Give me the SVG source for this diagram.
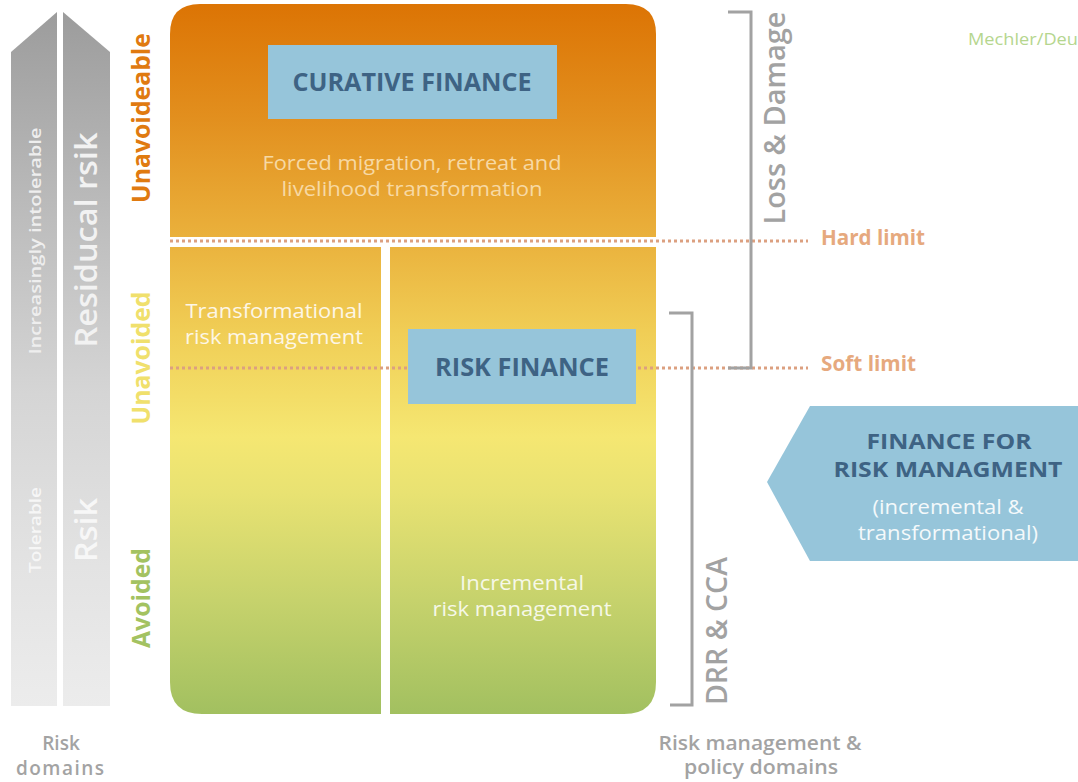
<svg xmlns="http://www.w3.org/2000/svg" width="1078" height="782" viewBox="0 0 1078 782">
<style>
text{font-family:"Open Sans","Noto Sans","Liberation Sans",sans-serif;}
.rot{text-anchor:middle;}
.head{font-weight:700;fill:#3e6384;text-anchor:middle;}
.body{text-anchor:middle;font-size:20px;font-weight:500;}
.lim{font-weight:700;fill:#e6a97e;font-size:21px;}
.brk{fill:none;stroke:#a2a2a2;stroke-width:3;}
.dot{fill:none;stroke:#dca080;stroke-width:3;stroke-dasharray:3 3;}
.foot{font-size:19px;fill:#a3a3a3;text-anchor:middle;font-weight:600;}
.blue{fill:#96c5da;}
</style>
<defs>
<linearGradient id="gMain" gradientUnits="userSpaceOnUse" x1="0" y1="4" x2="0" y2="714">
<stop offset="0" stop-color="#dc7404"/>
<stop offset="0.16" stop-color="#e28f1e"/>
<stop offset="0.33" stop-color="#eab13c"/>
<stop offset="0.46" stop-color="#f0cd55"/>
<stop offset="0.61" stop-color="#f5e772"/>
<stop offset="0.69" stop-color="#e8e272"/>
<stop offset="0.84" stop-color="#c6d26c"/>
<stop offset="1" stop-color="#a2c060"/>
</linearGradient>
<linearGradient id="gGray" gradientUnits="userSpaceOnUse" x1="0" y1="12" x2="0" y2="706">
<stop offset="0" stop-color="#9c9c9c"/>
<stop offset="0.3" stop-color="#bdbdbd"/>
<stop offset="0.55" stop-color="#d5d5d5"/>
<stop offset="0.8" stop-color="#e3e3e3"/>
<stop offset="1" stop-color="#ececec"/>
</linearGradient>
</defs>

<g id="risk-domains">
<g id="arrow-tolerance">
<polygon points="11,52 57,12 57,706 11,706" fill="url(#gGray)"/>
<text class="rot" transform="translate(41,241) rotate(-90)" font-size="17" font-weight="600" fill="#eeeeee" textLength="227" lengthAdjust="spacingAndGlyphs">Increasingly intolerable</text>
<text class="rot" transform="translate(41,530) rotate(-90)" font-size="17" font-weight="600" fill="#f6f6f6" textLength="86" lengthAdjust="spacingAndGlyphs">Tolerable</text>
</g>
<g id="arrow-risk">
<polygon points="63,12 110,52 110,706 63,706" fill="url(#gGray)"/>
<text class="rot" transform="translate(97,240) rotate(-90)" font-size="30" font-weight="600" fill="#f2f2f2" textLength="215" lengthAdjust="spacingAndGlyphs">Residucal rsik</text>
<text class="rot" transform="translate(97,530) rotate(-90)" font-size="30" font-weight="600" fill="#f7f7f7" textLength="64" lengthAdjust="spacingAndGlyphs">Rsik</text>
</g>
<g id="label-unavoidable"><text class="rot" transform="translate(150,118) rotate(-90)" font-size="25" font-weight="700" fill="#e07a10" textLength="170" lengthAdjust="spacingAndGlyphs">Unavoideable</text></g>
<g id="label-unavoided"><text class="rot" transform="translate(150,358) rotate(-90)" font-size="25" font-weight="700" fill="#f0e06c" textLength="133" lengthAdjust="spacingAndGlyphs">Unavoided</text></g>
<g id="label-avoided"><text class="rot" transform="translate(150,598) rotate(-90)" font-size="25" font-weight="700" fill="#a3c261" textLength="100" lengthAdjust="spacingAndGlyphs">Avoided</text></g>
<g id="label-risk-domains">
<text class="foot" x="61" y="750">Risk</text>
<text class="foot" x="60" y="775" textLength="88">domains</text>
</g>
</g>

<g id="zone-unavoidable">
<path d="M170,237 L170,34 Q170,4 200,4 L626,4 Q656,4 656,34 L656,237 Z" fill="url(#gMain)"/>
<text class="body" x="412" y="170" fill="#f7d9a4" textLength="299" lengthAdjust="spacingAndGlyphs">Forced migration, retreat and</text>
<text class="body" x="412" y="196" fill="#f7d9a4" textLength="261" lengthAdjust="spacingAndGlyphs">livelihood transformation</text>
</g>
<g id="zone-transformational">
<path d="M170,247 L381,247 L381,714 L202,714 Q170,714 170,682 Z" fill="url(#gMain)"/>
<text class="body" x="274" y="318" fill="#fdf6e6" textLength="177" lengthAdjust="spacingAndGlyphs">Transformational</text>
<text class="body" x="274" y="344" fill="#fdf6e6" textLength="178" lengthAdjust="spacingAndGlyphs">risk management</text>
</g>
<g id="zone-incremental">
<path d="M390,247 L656,247 L656,682 Q656,714 624,714 L390,714 Z" fill="url(#gMain)"/>
<text class="body" x="522" y="590" fill="#f6f8e8" textLength="124" lengthAdjust="spacingAndGlyphs">Incremental</text>
<text class="body" x="522" y="616" fill="#f6f8e8" textLength="179" lengthAdjust="spacingAndGlyphs">risk management</text>
</g>

<g id="connectors">
<line id="hard-limit-line" class="dot" x1="170" y1="241" x2="808" y2="241"/>
<line id="soft-limit-line" class="dot" x1="170" y1="368" x2="808" y2="368"/>
<polyline id="bracket-loss-damage" class="brk" points="728,12 751,12 751,368 728,368"/>
<polyline id="bracket-drr-cca" class="brk" points="669,313 692,313 692,705 670,705"/>
</g>

<g id="curative-finance">
<rect class="blue" x="268" y="45" width="289" height="74"/>
<text class="head" x="412" y="91" font-size="25" textLength="239" lengthAdjust="spacingAndGlyphs">CURATIVE FINANCE</text>
</g>
<g id="risk-finance">
<rect class="blue" x="408" y="329" width="228" height="75"/>
<text class="head" x="522" y="376" font-size="25" textLength="174" lengthAdjust="spacingAndGlyphs">RISK FINANCE</text>
</g>

<g id="hard-limit"><text class="lim" x="821" y="245" textLength="104" lengthAdjust="spacingAndGlyphs">Hard limit</text></g>
<g id="soft-limit"><text class="lim" x="821" y="371" textLength="95" lengthAdjust="spacingAndGlyphs">Soft limit</text></g>

<g id="loss-damage"><text class="rot" transform="translate(785,118) rotate(-90)" font-size="29" font-weight="600" fill="#a2a2a2" textLength="213" lengthAdjust="spacingAndGlyphs">Loss &amp; Damage</text></g>
<g id="drr-cca"><text class="rot" transform="translate(727,631) rotate(-90)" font-size="29" font-weight="600" fill="#a2a2a2" textLength="148" lengthAdjust="spacingAndGlyphs">DRR &amp; CCA</text></g>

<g id="finance-risk-management">
<polygon class="blue" points="767,482 810,406 1078,406 1078,561 810,561"/>
<text class="head" x="949" y="449" font-size="21" textLength="165" lengthAdjust="spacingAndGlyphs">FINANCE FOR</text>
<text class="head" x="948" y="477" font-size="21" textLength="229" lengthAdjust="spacingAndGlyphs">RISK MANAGMENT</text>
<text class="body" x="948" y="514" fill="#f4f9fb" textLength="151" lengthAdjust="spacingAndGlyphs">(incremental &amp;</text>
<text class="body" x="948" y="540" fill="#f4f9fb" textLength="180" lengthAdjust="spacingAndGlyphs">transformational)</text>
</g>

<g id="label-policy-domains">
<text class="foot" x="760" y="750" font-weight="500" textLength="203" lengthAdjust="spacingAndGlyphs">Risk management &amp;</text>
<text class="foot" x="761" y="774" font-weight="500" textLength="154" lengthAdjust="spacingAndGlyphs">policy domains</text>
</g>

<g id="credit"><text x="968" y="45" font-size="17" fill="#b5d68e" textLength="110" lengthAdjust="spacingAndGlyphs">Mechler/Deu</text></g>
</svg>
